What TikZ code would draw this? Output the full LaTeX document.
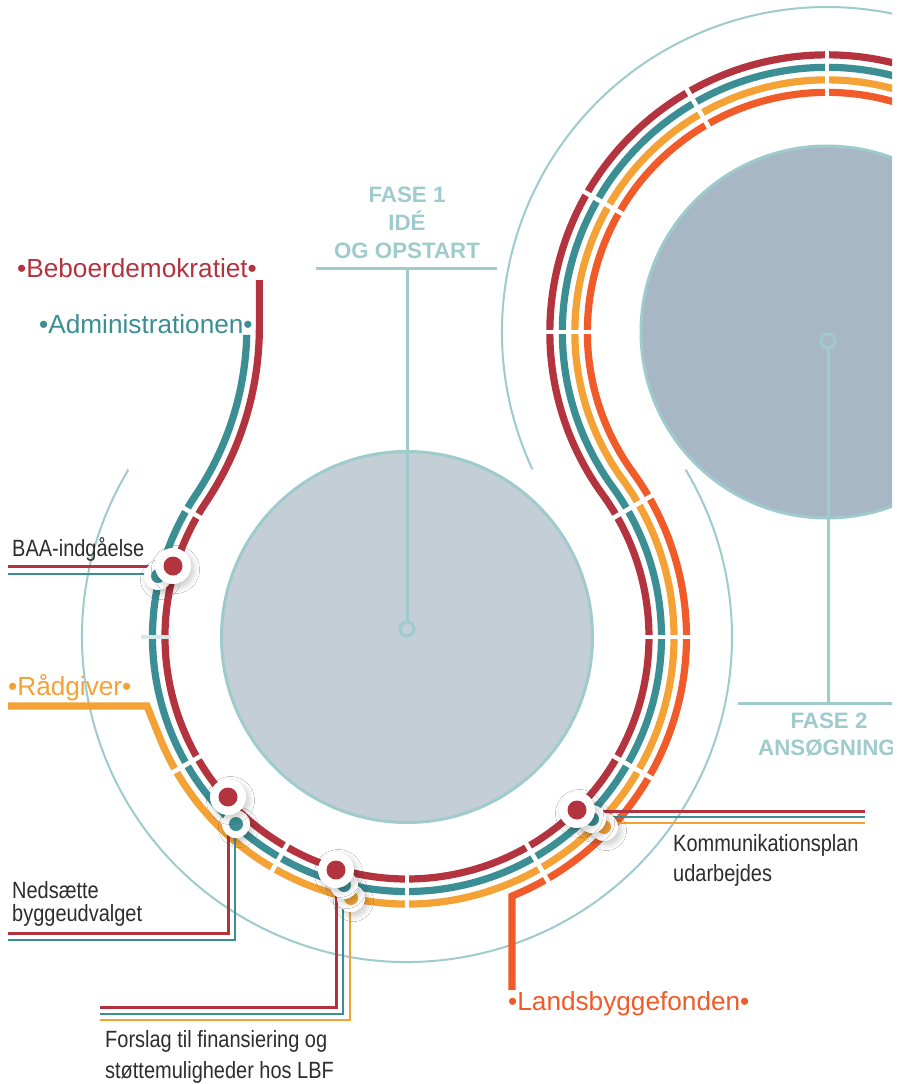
\documentclass[tikz,border=0pt]{standalone}
\usepackage{fontspec}
\setmainfont{Liberation Sans}
\newfontfamily\condf[FakeStretch=0.85]{Liberation Sans}
\usetikzlibrary{calc,shadows.blur}
\definecolor{cRed}{HTML}{B3343F}
\definecolor{cTeal}{HTML}{3B8E93}
\definecolor{cOrange}{HTML}{F4A236}
\definecolor{cOrred}{HTML}{F15A29}
\definecolor{cPale}{HTML}{9FCBCC}
\definecolor{cFillA}{HTML}{C3CED7}
\definecolor{cFillB}{HTML}{A8B7C5}
\definecolor{cText}{HTML}{2D2D2D}
\definecolor{cGapPale}{HTML}{D8E8E9}
\begin{document}
\begin{tikzpicture}[x=1pt,y=-1pt,
  trk/.style={line width=7.2pt},
  paleline/.style={draw=cPale, line width=3pt},
  thinarc/.style={draw=cPale, line width=2pt},
  gapw/.style={draw=white, line width=4.5pt},
  conn/.style={line width=3pt},
  connthin/.style={line width=2.4pt},
  stw/.style={circle, fill=white, inner sep=0pt, minimum size=36pt,
    blur shadow={shadow xshift=2.5pt, shadow yshift=-3.5pt, shadow opacity=22, shadow blur radius=6pt, shadow blur steps=12}},
  stws/.style={stw, minimum size=28pt},
  dotb/.style={circle, inner sep=0pt, minimum size=19pt},
  dots/.style={circle, inner sep=0pt, minimum size=14pt},
  lab/.style={font=\fontsize{26.2}{30}\selectfont, anchor=base west, inner sep=0pt},
  blk/.style={font=\condf\fontsize{23.5}{28}\selectfont, text=cText, anchor=base west, inner sep=0pt},
  fase/.style={font=\bfseries\fontsize{22.3}{28}\selectfont, text=cPale, inner sep=0pt}
]
\useasboundingbox (0,0) rectangle (902,1084);
\fill[white] (0,0) rectangle (902,1084);
\begin{scope}
\clip (0,0) rectangle (892,1084);

\coordinate (C0) at (-55,327);
\coordinate (C1) at (407,637);
\coordinate (C2) at (827,332);

% thin outer arcs
\draw[thinarc] ($(C1)+(211:325)$) arc[start angle=211, end angle=-31, radius=325];
\draw[thinarc] ($(C2)+(155:325)$) arc[start angle=155, end angle=300, radius=325];

% phase circles
\draw[paleline, fill=cFillA] (C1) circle[radius=185.5];
\draw[paleline, fill=cFillB] (C2) circle[radius=186];

% stems
\coordinate (s1) at (407,629);
\coordinate (s1top) at (407,268);
\coordinate (h1a) at (316,268);
\coordinate (h1b) at (497,268);
\draw[paleline] (s1) circle[radius=7];
\draw[paleline] ($(s1)+(0,-7)$) -- (s1top);
\draw[paleline] (h1a) -- (h1b);
\coordinate (s2) at (828,341);
\coordinate (s2bot) at (828,703);
\coordinate (h2a) at (738,703);
\coordinate (h2b) at (902,703);
\draw[paleline] (s2) circle[radius=7];
\draw[paleline] ($(s2)+(0,7)$) -- (s2bot);
\draw[paleline] (h2a) -- (h2b);

% tracks
\draw[trk, cRed] (259.37,280) -- (259.37,327)
  arc[start angle=0, end angle=33.86, radius=314.37]
  arc[start angle=213.86, end angle=-36, radius=242]
  arc[start angle=144, end angle=300, radius=277.06];
\draw[trk, cTeal] ($(C0)+(1.5:301.87)$)
  arc[start angle=1.5, end angle=33.86, radius=301.87]
  arc[start angle=213.86, end angle=-36, radius=254.5]
  arc[start angle=144, end angle=300, radius=264.56];
\draw[trk, cOrange, line join=miter] (8,706) -- (147,706) -- ($(C1)+(158:267)$)
  arc[start angle=158, end angle=-36, radius=267]
  arc[start angle=144, end angle=300, radius=252.06];
\draw[trk, cOrred, line join=miter] (512,990) -- ($(C1)+(67.93:279.5)$)
  arc[start angle=67.93, end angle=-36, radius=279.5]
  arc[start angle=144, end angle=300, radius=239.56];

% gaps
\foreach \a in {210,150,120,90,60,30,0,-30}
  \draw[gapw] ($(C1)+(\a:235)$) -- ($(C1)+(\a:286)$);
\draw[draw=cGapPale, line width=4.5pt] ($(C1)+(180:236)$) -- ($(C1)+(180:266)$);
\foreach \a in {180,210,240,270}
  \draw[gapw] ($(C2)+(\a:232)$) -- ($(C2)+(\a:284)$);

% station coordinates
\coordinate (bR) at (173,566);
\coordinate (bT) at (158,576);
\coordinate (nR) at (228,797);
\coordinate (nT) at (236,824);
\coordinate (fR) at (336,870);
\coordinate (fT) at (344,885);
\coordinate (fO) at (351,898);
\coordinate (kR) at (577,810);
\coordinate (kT) at (592,819);
\coordinate (kO) at (604,827);

% connector ends
\coordinate (bRe) at (8,566);
\coordinate (bTe) at (8,574);
\coordinate (nRc) at (228,933);
\coordinate (nRe) at (8,933);
\coordinate (nTc) at (235,940);
\coordinate (nTe) at (8,940);
\coordinate (fRc) at (336,1007);
\coordinate (fRe) at (100,1007);
\coordinate (fTc) at (343,1014);
\coordinate (fTe) at (100,1014);
\coordinate (fOc) at (350,1020);
\coordinate (fOe) at (100,1020);
\coordinate (kRe) at (865,811);
\coordinate (kTe) at (865,817);
\coordinate (kOe) at (865,823);

% connectors
\draw[conn, cRed] (bR) -- (bR |- bRe) -- (bRe);
\draw[connthin, cTeal] (bT |- bTe) -- (bTe);
\draw[conn, cRed] (nR) -- (nRc) -- (nRe);
\draw[connthin, cTeal] (nTc |- nT) -- (nTc) -- (nTe);
\draw[conn, cRed] (fR) -- (fRc) -- (fRe);
\draw[connthin, cTeal] (fTc |- fT) -- (fTc) -- (fTe);
\draw[connthin, cOrange] (fOc |- fO) -- (fOc) -- (fOe);
\draw[conn, cRed] (kR |- kRe) -- (kRe);
\draw[connthin, cTeal] (kT |- kTe) -- (kTe);
\draw[connthin, cOrange] (kO |- kOe) -- (kOe);

% stations
\node[stws] (bTw) at (bT) {}; \node[dots, fill=cTeal] (bTd) at (bT) {};
\node[stw] (bRw) at (bR) {}; \node[dotb, fill=cRed] (bRd) at (bR) {};
\node[stws] (nTw) at (nT) {}; \node[dots, fill=cTeal] (nTd) at (nT) {};
\node[stw] (nRw) at (nR) {}; \node[dotb, fill=cRed] (nRd) at (nR) {};
\node[stws] (fOw) at (fO) {}; \node[dots, fill=cOrange] (fOd) at (fO) {};
\node[stws] (fTw) at (fT) {}; \node[dots, fill=cTeal] (fTd) at (fT) {};
\node[stw] (fRw) at (fR) {}; \node[dotb, fill=cRed] (fRd) at (fR) {};
\node[stws] (kOw) at (kO) {}; \node[dots, fill=cOrange] (kOd) at (kO) {};
\node[stws] (kTw) at (kT) {}; \node[dots, fill=cTeal] (kTd) at (kT) {};
\node[stw] (kRw) at (kR) {}; \node[dotb, fill=cRed] (kRd) at (kR) {};

% coloured labels
\node[lab, text=cRed] (lBeb) at (17,277) {•Beboerdemokratiet•};
\node[lab, text=cTeal] (lAdm) at (39,333) {•Administrationen•};
\node[lab, text=cOrange] (lRaad) at (8,695) {•Rådgiver•};
\node[lab, text=cOrred] (lLBF) at (508,1010) {•Landsbyggefonden•};

% black labels
\node[blk] (tBAA) at (12,556) {BAA-indgåelse};
\node[blk] (tNed1) at (12,898) {Nedsætte};
\node[blk] (tNed2) at (12,921) {byggeudvalget};
\node[blk] (tFor1) at (105,1047) {Forslag til finansiering og};
\node[blk] (tFor2) at (105,1078) {støttemuligheder hos LBF};
\node[blk] (tKom1) at (673,851) {Kommunikationsplan};
\node[blk] (tKom2) at (673,881) {udarbejdes};

% phase labels
\node[fase, anchor=base] (f1a) at (407,202) {FASE 1};
\node[fase, anchor=base] (f1b) at (407,230) {IDÉ};
\node[fase, anchor=base] (f1c) at (407,258) {OG OPSTART};
\node[fase, anchor=base] (f2a) at (829,728) {FASE 2};
\node[fase, anchor=base west] (f2b) at (758,755) {ANSØGNING};
\end{scope}
\end{tikzpicture}
\end{document}
